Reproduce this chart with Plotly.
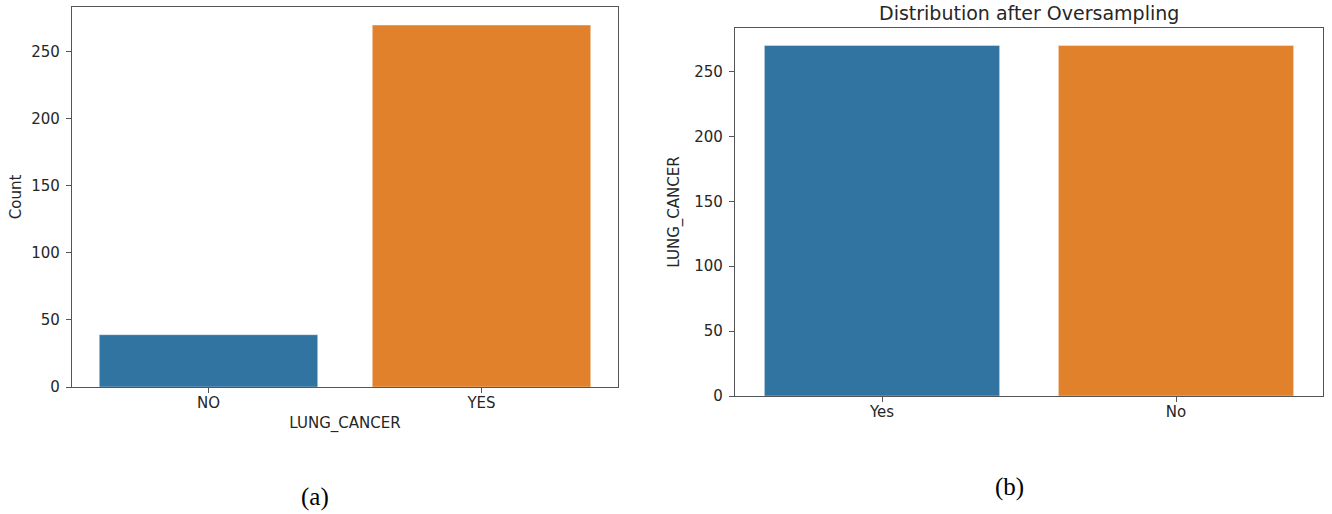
import plotly.graph_objects as go

# Class counts before and after oversampling
before_labels = ["NO", "YES"]
before_counts = [39, 270]
after_labels = ["Yes", "No"]
after_counts = [270, 270]
bar_colors = ["#3274a1", "#e1812c"]
y_ticks = [0, 50, 100, 150, 200, 250]

W, H = 1332, 514
fig = go.Figure()

edge = dict(width=0.6, color="rgba(255,255,255,0.6)")
fig.add_trace(go.Bar(x=[0, 1], y=before_counts, marker=dict(color=bar_colors, line=edge),
                     width=0.8, xaxis="x", yaxis="y", showlegend=False))
fig.add_trace(go.Bar(x=[0, 1], y=after_counts, marker=dict(color=bar_colors, line=edge),
                     width=0.8, xaxis="x2", yaxis="y2", showlegend=False))

font = dict(family="DejaVu Sans", size=15, color="#262626")
axis_common = dict(showline=True, mirror=True, linecolor="#555555", linewidth=1.3,
                   ticks="outside", ticklen=5, tickcolor="#555555", tickwidth=1,
                   showgrid=False, zeroline=False, tickfont=font, automargin=False)
x_common = dict(axis_common, ticklabelstandoff=-3)
y_common = dict(axis_common, ticklabelstandoff=3)

fig.update_layout(
    width=W, height=H, margin=dict(l=0, r=0, t=0, b=0, autoexpand=False),
    plot_bgcolor="white", paper_bgcolor="white",
    xaxis=dict(domain=[72 / W, 618 / W], range=[-0.5, 1.5], tickvals=[0, 1], ticktext=before_labels,
               anchor="y", title=dict(text="LUNG_CANCER", font=font, standoff=6), **x_common),
    yaxis=dict(domain=[1 - 387 / H, 1 - 7 / H], range=[0, 283.5], tickvals=y_ticks,
               anchor="x", title=dict(text="Count", font=font, standoff=5), **y_common),
    xaxis2=dict(domain=[735 / W, 1323 / W], range=[-0.5, 1.5], tickvals=[0, 1], ticktext=after_labels,
                anchor="y2", **x_common),
    yaxis2=dict(domain=[1 - 396 / H, 1 - 28 / H], range=[0, 283.5], tickvals=y_ticks,
                anchor="x2", title=dict(text="LUNG_CANCER", font=font, standoff=10), **y_common),
    annotations=[
        dict(text="Distribution after Oversampling", x=(735 + 1323) / 2 / W, y=1 - 13 / H,
             xref="paper", yref="paper", showarrow=False, font=dict(family="DejaVu Sans", size=19, color="#262626"),
             xanchor="center", yanchor="middle"),
        dict(text="(a)", x=315 / W, y=1 - 497 / H, xref="paper", yref="paper", showarrow=False,
             font=dict(family="Liberation Serif", size=25, color="#000000"), xanchor="center", yanchor="middle"),
        dict(text="(b)", x=1010 / W, y=1 - 487 / H, xref="paper", yref="paper", showarrow=False,
             font=dict(family="Liberation Serif", size=25, color="#000000"), xanchor="center", yanchor="middle"),
    ],
)

fig.write_html("out.html")
